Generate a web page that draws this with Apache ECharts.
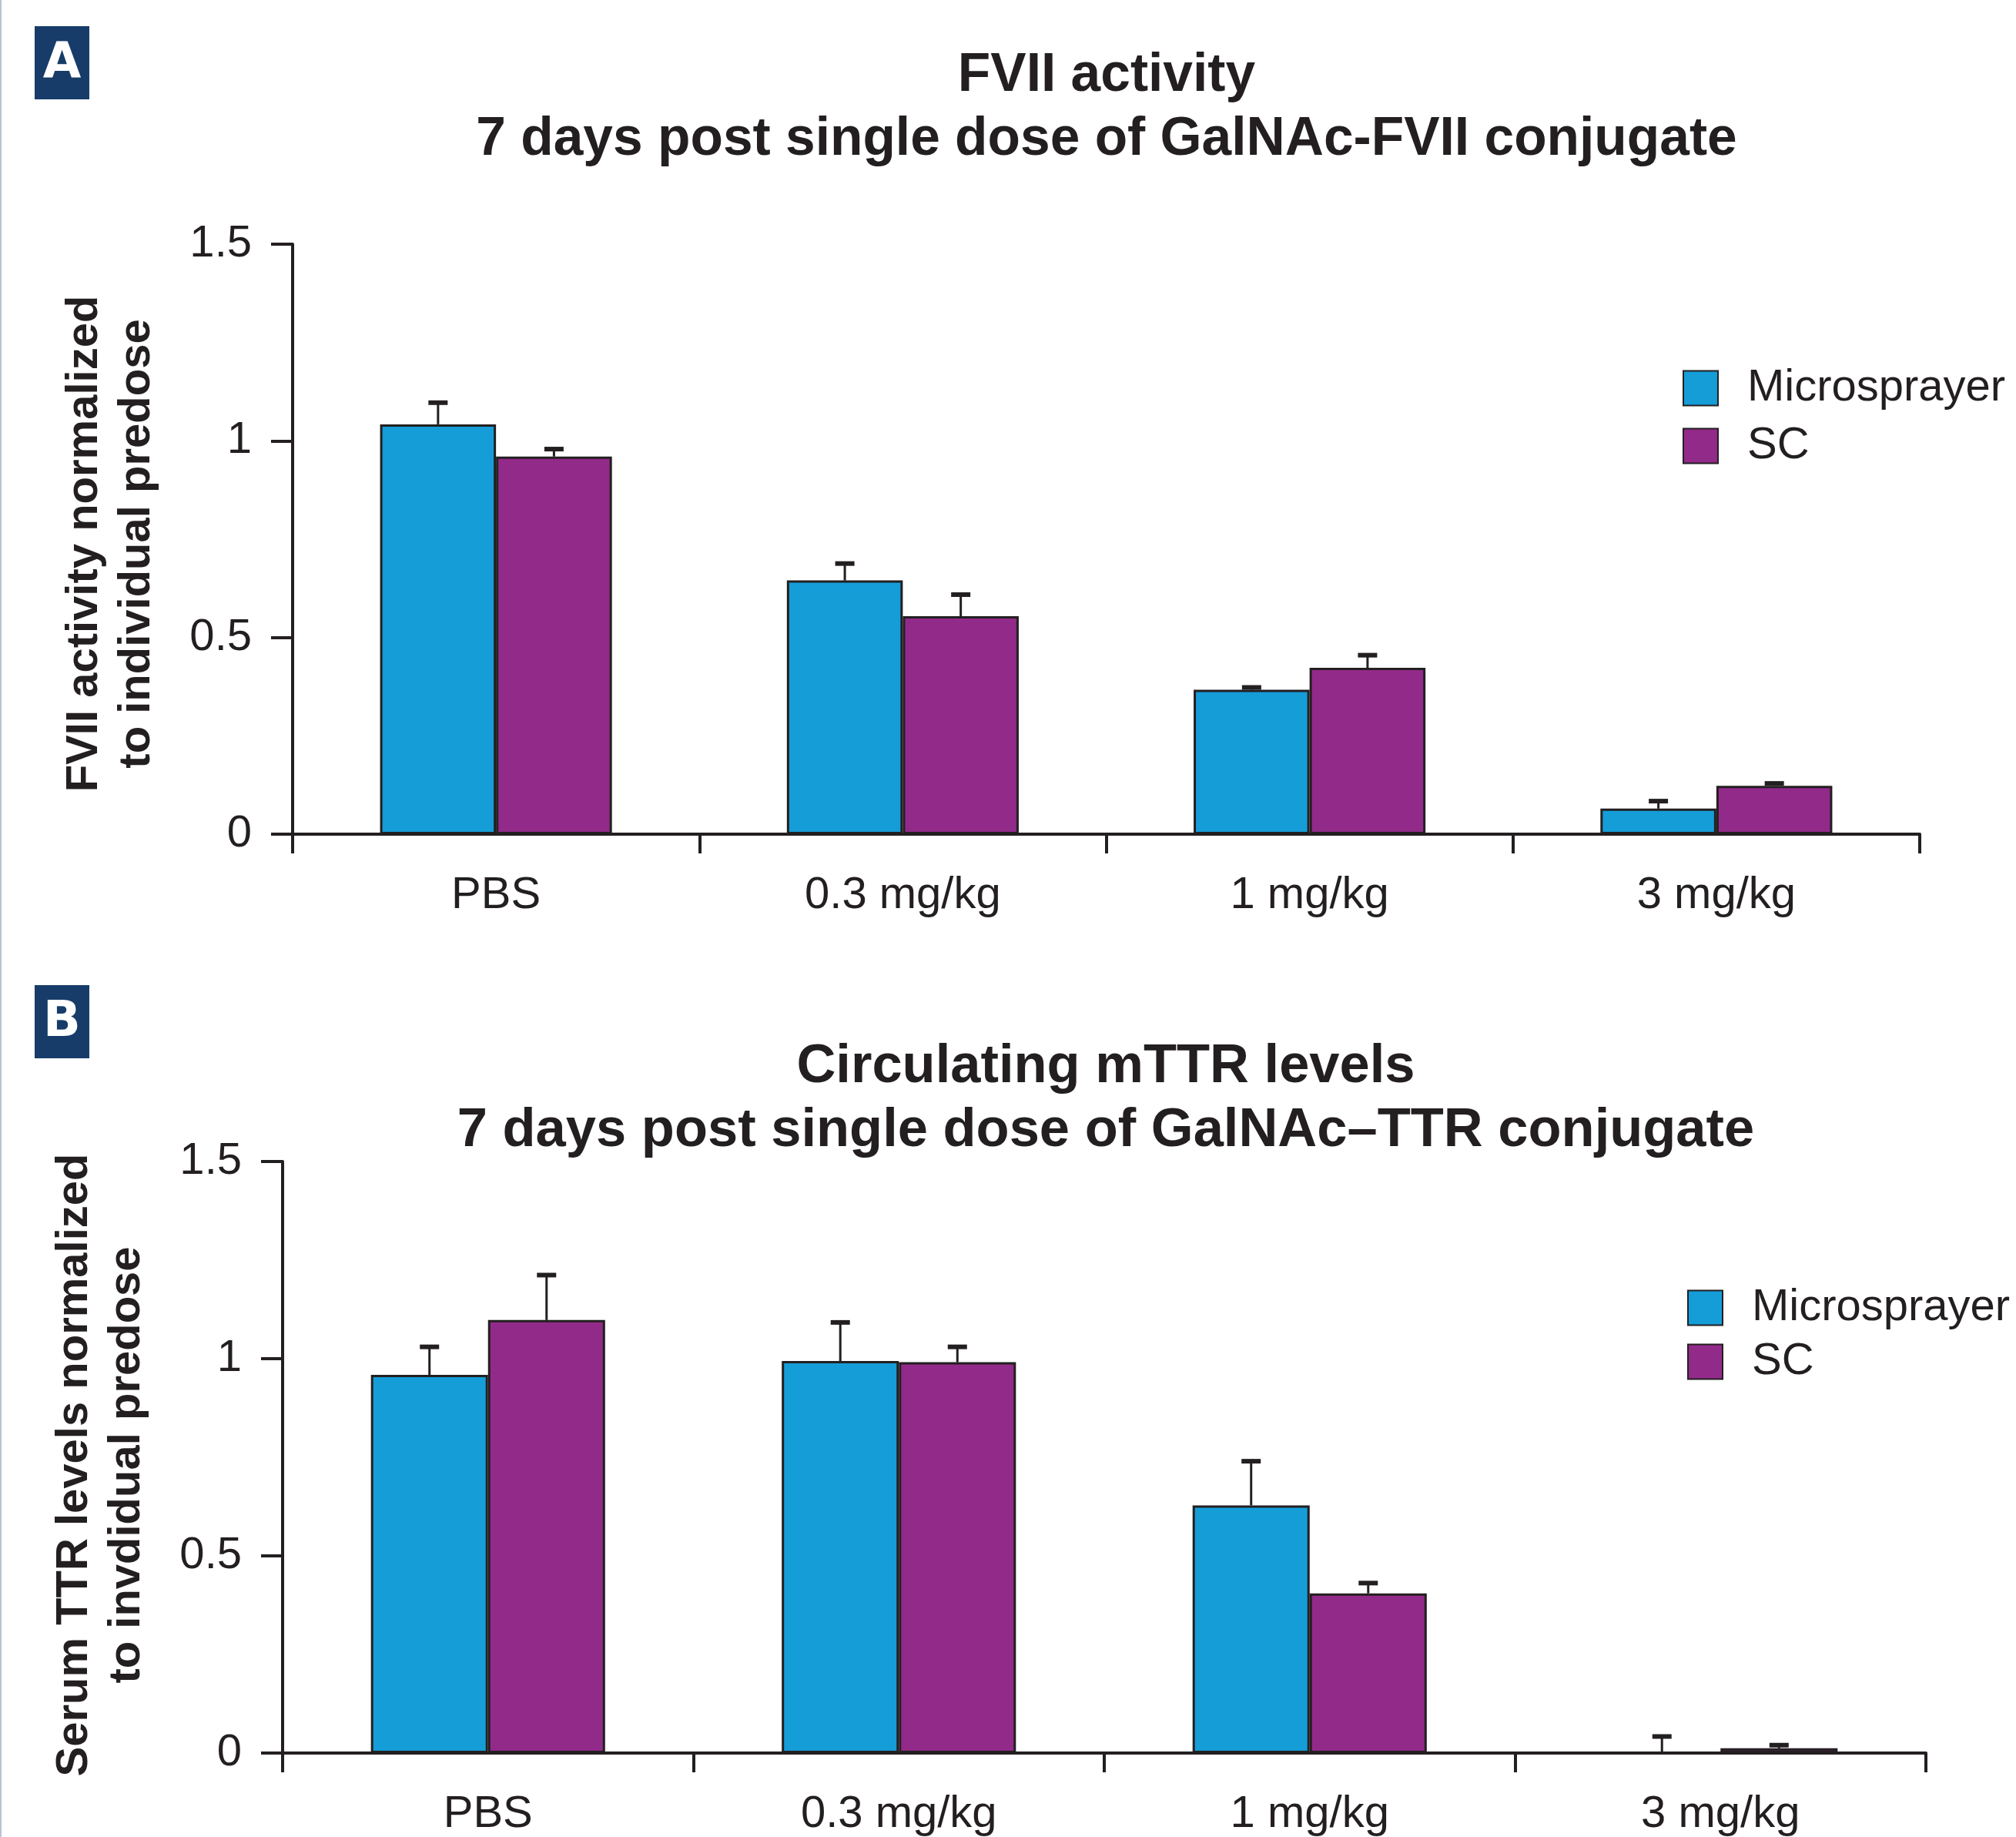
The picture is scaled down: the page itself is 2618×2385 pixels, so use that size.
<!DOCTYPE html>
<html>
<head>
<meta charset="utf-8">
<title>FVII activity / mTTR levels</title>
<script src="https://cdn.jsdelivr.net/npm/echarts@6/dist/echarts.min.js"></script>
<style>
  html, body { margin: 0; padding: 0; background: #fff; }
  #chart { width: 2618px; height: 2385px; }
</style>
</head>
<body>
<div id="chart"></div>
<script>
// dose groups on the x axis
var categories = ['PBS', '0.3 mg/kg', '1 mg/kg', '3 mg/kg'];
var seriesNames = ['Microsprayer', 'SC'];
var yTicks = [0, 0.5, 1, 1.5];

// panel A: FVII activity (mean, error = height of the bar above the mean)
var fviiMicro = [1.042, 0.645, 0.367, 0.065];
var fviiMicroErr = [0.055, 0.043, 0.006, 0.019];
var fviiSc = [0.960, 0.554, 0.423, 0.123];
var fviiScErr = [0.019, 0.055, 0.032, 0.006];

// panel B: circulating mTTR
var ttrMicro = [0.959, 0.994, 0.628, 0];
var ttrMicroErr = [0.071, 0.098, 0.112, 0.042];
var ttrSc = [1.098, 0.991, 0.405, 0.012];
var ttrScErr = [0.114, 0.039, 0.026, 0.008];

var INK = '#231f20';
var BLUE = '#159dd8';
var PURPLE = '#922a8a';
var NAVY = '#173c69';
var BAR_RATIO = 0.285;
var FONT = '"Liberation Sans", Arial, Helvetica, sans-serif';

var chart = echarts.init(document.getElementById('chart'), null, { renderer: 'canvas' });

// error bar: stem from bar top + small cap, shifted to the bar of its series
function errorBar(dir) {
  return function (params, api) {
    var idx = api.value(0);
    var mean = api.value(1);
    var err = api.value(2);
    var band = api.size([1, 0])[0];
    var dx = dir * band * BAR_RATIO / 2;
    var p0 = api.coord([idx, mean]);
    var p1 = api.coord([idx, mean + err]);
    var x = p0[0] + dx;
    return {
      type: 'group',
      children: [
        { type: 'line', shape: { x1: x, y1: p0[1], x2: x, y2: p1[1] }, style: { stroke: INK, lineWidth: 3 } },
        { type: 'rect', shape: { x: x - 12.5, y: p1[1] - 3, width: 25, height: 6 }, style: { fill: INK } }
      ]
    };
  };
}

function errData(means, errs) {
  var out = [];
  for (var i = 0; i < means.length; i++) {
    out.push([i, means[i], errs[i]]);
  }
  return out;
}

function xAxisOf(gridIndex) {
  return {
    type: 'category',
    gridIndex: gridIndex,
    data: categories,
    boundaryGap: true,
    axisLine: { show: true, lineStyle: { color: INK, width: 4 } },
    axisTick: { show: true, alignWithLabel: false, length: 25, lineStyle: { color: INK, width: 4 } },
    axisLabel: { color: INK, fontSize: 58, fontFamily: FONT, margin: 51 },
    splitLine: { show: false }
  };
}

function yAxisOf(gridIndex) {
  return {
    type: 'value',
    gridIndex: gridIndex,
    min: yTicks[0],
    max: yTicks[yTicks.length - 1],
    interval: yTicks[1] - yTicks[0],
    axisLine: { show: true, lineStyle: { color: INK, width: 4 } },
    axisTick: { show: true, inside: false, length: 28, lineStyle: { color: INK, width: 4 } },
    axisLabel: { color: INK, fontSize: 58, fontFamily: FONT, margin: 53 },
    splitLine: { show: false }
  };
}

function barSeries(name, color, values, axisIndex) {
  return {
    name: name,
    type: 'bar',
    xAxisIndex: axisIndex,
    yAxisIndex: axisIndex,
    data: values,
    barWidth: (BAR_RATIO * 100) + '%',
    barGap: '0%',
    itemStyle: { color: color, borderColor: INK, borderWidth: 3 },
    emphasis: { disabled: true },
    animation: false
  };
}

function errSeries(means, errs, dir, axisIndex) {
  return {
    type: 'custom',
    xAxisIndex: axisIndex,
    yAxisIndex: axisIndex,
    renderItem: errorBar(dir),
    encode: { x: 0, y: 1 },
    data: errData(means, errs),
    clip: false,
    z: 5,
    silent: true,
    animation: false
  };
}

function legendOf(left, top, gap) {
  return {
    data: seriesNames,
    orient: 'vertical',
    left: left,
    top: top,
    padding: 0,
    itemGap: gap,
    itemWidth: 45,
    itemHeight: 45,
    icon: 'rect',
    selectedMode: false,
    textStyle: { color: INK, fontSize: 58, fontFamily: FONT, lineHeight: 45, padding: [0, 0, 0, 33] }
  };
}

var titleStyleA = { color: INK, fontSize: 69.5, fontWeight: 'bold', fontFamily: FONT, lineHeight: 83 };
var titleStyleB = { color: INK, fontSize: 70.5, fontWeight: 'bold', fontFamily: FONT, lineHeight: 83 };

var option = {
  backgroundColor: '#ffffff',
  animation: false,
  title: [
    {
      text: 'FVII activity\n7 days post single dose of GalNAc-FVII conjugate',
      left: 1437, top: 57, padding: 0, textAlign: 'center',
      textStyle: titleStyleA
    },
    {
      text: 'Circulating mTTR levels\n7 days post single dose of GalNAc\u2013TTR conjugate',
      left: 1436, top: 1344, padding: 0, textAlign: 'center',
      textStyle: titleStyleB
    }
  ],
  legend: [legendOf(2185, 475, 17), legendOf(2191, 1669, 12)],
  grid: [
    { left: 380, top: 317, width: 2113, height: 766, containLabel: false },
    { left: 367, top: 1508, width: 2134, height: 778, containLabel: false }
  ],
  xAxis: [xAxisOf(0), xAxisOf(1)],
  yAxis: [yAxisOf(0), yAxisOf(1)],
  series: [
    barSeries(seriesNames[0], BLUE, fviiMicro, 0),
    barSeries(seriesNames[1], PURPLE, fviiSc, 0),
    errSeries(fviiMicro, fviiMicroErr, -1, 0),
    errSeries(fviiSc, fviiScErr, 1, 0),
    barSeries(seriesNames[0], BLUE, ttrMicro, 1),
    barSeries(seriesNames[1], PURPLE, ttrSc, 1),
    errSeries(ttrMicro, ttrMicroErr, -1, 1),
    errSeries(ttrSc, ttrScErr, 1, 1)
  ],
  graphic: [
    // thin page edge on the left
    { type: 'rect', left: 0, top: 0, shape: { width: 2, height: 2385 }, style: { fill: '#b7c4d4' }, silent: true },
    // panel letters
    { type: 'rect', shape: { x: 45, y: 34, width: 71, height: 95 }, style: { fill: NAVY }, silent: true },
    { type: 'text', x: 80.5, y: 84, style: { text: 'A', fill: '#fff', font: 'bold 64px "DejaVu Sans", Verdana, sans-serif', align: 'center', verticalAlign: 'middle' }, silent: true },
    { type: 'rect', shape: { x: 45, y: 1279, width: 71, height: 95 }, style: { fill: NAVY }, silent: true },
    { type: 'text', x: 80.5, y: 1328, style: { text: 'B', fill: '#fff', font: 'bold 64px "DejaVu Sans", Verdana, sans-serif', align: 'center', verticalAlign: 'middle' }, silent: true },
    // y axis titles
    {
      type: 'text', x: 144, y: 706, rotation: Math.PI / 2, silent: true,
      style: { text: 'FVII activity normalized\nto individual predose', fill: INK, font: 'bold 58px ' + FONT, lineHeight: 68, align: 'center', verticalAlign: 'middle' }
    },
    {
      type: 'text', x: 131, y: 1902, rotation: Math.PI / 2, silent: true,
      style: { text: 'Serum TTR levels normalized\nto invdidual predose', fill: INK, font: 'bold 58px ' + FONT, lineHeight: 68, align: 'center', verticalAlign: 'middle' }
    }
  ]
};

chart.setOption(option);
</script>
</body>
</html>
